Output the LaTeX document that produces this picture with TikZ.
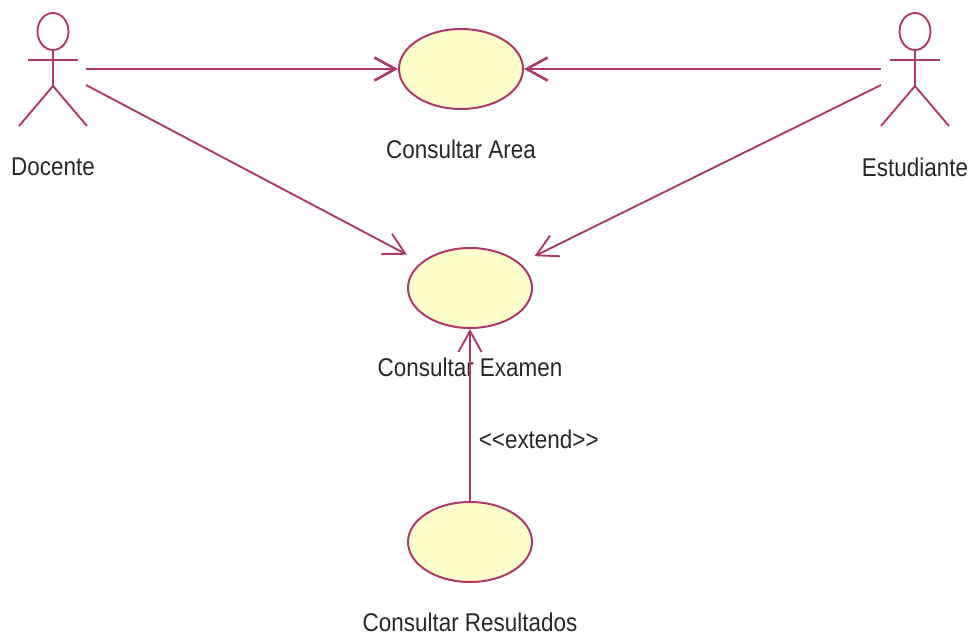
\documentclass[tikz,border=0pt]{standalone}
\usepackage{fontspec}
\setmainfont{Liberation Sans}
\usetikzlibrary{positioning}
\usetikzlibrary{shapes.geometric}
\usetikzlibrary{arrows.meta}
\definecolor{umlline}{RGB}{176,56,104}
\definecolor{umlfill}{RGB}{255,255,204}
\definecolor{umltext}{RGB}{40,40,40}
\tikzset{
    usecase/.style={ellipse,draw=umlline,fill=umlfill,line width=2*0.5669pt,minimum width=2.48cm,minimum height=1.6cm,inner sep=0pt},
    umltitle/.style={text=umltext,font=\fontsize{14.6}{16}\selectfont,xscale=.875,inner sep=0pt},
    actorline/.style={draw=umlline,line width=1.9*0.5669pt},
    assoc/.style={actorline,-{Straight Barb[length=.42cm,width=.46cm]}}
}
\begin{document}
\begin{tikzpicture}[x=.02cm,y=-.02cm]
        \useasboundingbox (0,0) rectangle (975,639);
        \node[usecase] (area) at (461,69) {};
        \node[usecase] (examen) at (470,288) {};
        \node[usecase] (resultados) at (470,542) {};

        \node[umltitle,below=.6cm of area] (arealabel) {Consultar Area};
        \node[umltitle,below=.58cm of examen] (examenlabel) {Consultar Examen};
        \node[umltitle,below=.6cm of resultados] (resultadoslabel) {Consultar Resultados};

        % actors
        \foreach \name/\label/\x in {docente/Docente/53,estudiante/Estudiante/915} {
            \draw[actorline] (\x,31.5) ellipse (15.5 and 18.5);
            \draw[actorline] (\x,50) -- (\x,86);
            \draw[actorline] (\x-25,60) -- (\x+25,60);
            \draw[actorline] (\x-34,126) -- (\x,86) -- (\x+34,126);
            \node[umltitle] (\name) at (\x,167) {\label};
        }

        \coordinate (docentetop) at (86,69);
        \coordinate (docentelow) at (86,85);
        \coordinate (estudiantetop) at (881,69);
        \coordinate (estudiantelow) at (881,85);

        \draw[assoc,line width=2.6*0.5669pt] (docentetop) -- (area);
        \draw[assoc,line width=2.6*0.5669pt] (estudiantetop) -- (area);
        \draw[assoc,shorten >=.32cm] (docentelow) -- (examen);
        \draw[assoc,shorten >=.32cm] (estudiantelow) -- (examen);
        \draw[assoc] (resultados) -- node[umltitle,pos=.36,right=.16cm] (extendlabel) {<{}<extend>{}>} (examen);
    \end{tikzpicture}
\end{document}
